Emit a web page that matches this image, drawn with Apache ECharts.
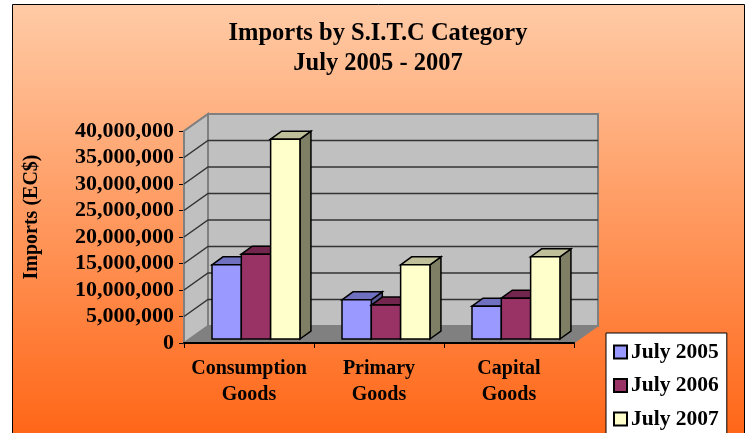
<!DOCTYPE html>
<html>
<head>
<meta charset="utf-8">
<style>
  html, body { margin: 0; padding: 0; background: #fff; }
  #chart { width: 749px; height: 433px; }
</style>
<script src="https://cdn.jsdelivr.net/npm/echarts@6/dist/echarts.min.js"></script>
</head>
<body>
<div id="chart"></div>
<script>
const categories = ['Consumption\nGoods', 'Primary\nGoods', 'Capital\nGoods'];
const july2005 = [14000000, 7400000, 6200000];
const july2006 = [16000000, 6400000, 7700000];
const july2007 = [37700000, 14000000, 15500000];
const gridTicks = [5000000, 10000000, 15000000, 20000000, 25000000, 30000000, 35000000, 40000000];

const serif = '"Liberation Serif", serif';
const depthX = 24;
const depthY = -17;

// one bar with its top and side faces, the 3d look is faked with polygons
const barRenderer = (seriesIndex, front, top, side) => (params, api) => {
  const band = api.size([1, 0])[0];
  const width = band * 0.2255;
  const base = api.coord([api.value(0), 0]);
  const peak = api.coord([api.value(0), api.value(1)]);
  const x0 = base[0] - band / 2 + 28 + seriesIndex * width;
  const x1 = x0 + width;
  const y0 = base[1] - 4;
  const y1 = peak[1] - 4;
  const dx = 11;
  const dy = -8;
  const lineStyle = { stroke: '#000', lineWidth: 1.5 };
  return {
    type: 'group',
    children: [
      { type: 'polygon', shape: { points: [[x1, y0], [x1 + dx, y0 + dy], [x1 + dx, y1 + dy], [x1, y1]] }, style: { fill: side, ...lineStyle } },
      { type: 'polygon', shape: { points: [[x0, y1], [x0 + dx, y1 + dy], [x1 + dx, y1 + dy], [x1, y1]] }, style: { fill: top, ...lineStyle } },
      { type: 'rect', shape: { x: x0, y: y1, width: width, height: y0 - y1 }, style: { fill: front, ...lineStyle } },
    ],
  };
};

const barSeries = (name, data, index, front, top, side) => ({
  name: name,
  type: 'custom',
  coordinateSystem: 'cartesian2d',
  data: data.map((v, i) => [i, v]),
  encode: { x: 0, y: 1 },
  clip: false,
  z: 5 + index,
  itemStyle: { color: front, borderColor: '#000', borderWidth: 1 },
  renderItem: barRenderer(index, front, top, side),
});

const chart = echarts.init(document.getElementById('chart'));
chart.setOption({
  animation: false,
  backgroundColor: '#fff',
  graphic: [{
    type: 'rect',
    z: -10,
    shape: { x: 12.5, y: 4.5, width: 732, height: 440 },
    style: {
      stroke: '#000',
      lineWidth: 1,
      fill: {
        type: 'linear', x: 0, y: 0, x2: 0, y2: 1,
        colorStops: [
          { offset: 0, color: '#FFCBA6' },
          { offset: 1, color: '#FF6414' },
        ],
      },
    },
  }],
  title: {
    text: 'Imports by S.I.T.C Category\nJuly 2005 - 2007',
    left: 373,
    top: 14,
    textAlign: 'center',
    textStyle: { fontFamily: serif, fontSize: 24.5, fontWeight: 'bold', color: '#000', lineHeight: 30 },
  },
  legend: {
    orient: 'vertical',
    left: 606,
    top: 333,
    height: 130,
    data: ['July 2005', 'July 2006', 'July 2007'],
    backgroundColor: '#fff',
    borderColor: '#000',
    borderWidth: 1,
    padding: [8, 8, 4, 7],
    itemWidth: 13,
    itemHeight: 13,
    itemGap: 11.5,
    icon: 'rect',
    textStyle: { fontFamily: serif, fontSize: 21.5, fontWeight: 'bold', color: '#000', padding: [0, 0, 0, -1] },
  },
  grid: { left: 184, top: 131, width: 390, height: 212 },
  xAxis: {
    type: 'category',
    data: categories,
    axisLine: { lineStyle: { color: '#000', width: 2 } },
    axisTick: { show: true, length: 5, lineStyle: { color: '#000', width: 1 } },
    axisLabel: { interval: 0, fontFamily: serif, fontSize: 20, fontWeight: 'bold', color: '#000', lineHeight: 26, margin: 13 },
    z: 4,
  },
  yAxis: {
    type: 'value',
    min: 0,
    max: 40000000,
    interval: 5000000,
    name: 'Imports (EC$)',
    nameLocation: 'middle',
    nameGap: 142,
    nameRotate: 90,
    nameTextStyle: { fontFamily: serif, fontSize: 20, fontWeight: 'bold', color: '#000', padding: [0, 0, 0, 40] },
    axisLine: { show: false },
    axisTick: { show: true, length: 5, lineStyle: { color: '#000', width: 1 } },
    axisLabel: {
      fontFamily: serif, fontSize: 22, fontWeight: 'bold', color: '#000', margin: 10, padding: [4, 0, 0, 0],
      formatter: (v) => v.toLocaleString('en-US'),
    },
    splitLine: { show: false },
  },
  series: [
    {
      // walls and floor behind the bars
      type: 'custom',
      data: [[0, 0]],
      clip: false,
      silent: true,
      z: 1,
      renderItem: (params, api) => {
        const g = params.coordSys;
        const l = g.x, r = g.x + g.width, t = g.y, b = g.y + g.height;
        const edge = { stroke: '#808080', lineWidth: 2 };
        return {
          type: 'group',
          children: [
            { type: 'polygon', shape: { points: [[l + depthX, t + depthY], [r + depthX, t + depthY], [r + depthX, b + depthY], [l + depthX, b + depthY]] }, style: { fill: '#C0C0C0', ...edge } },
            { type: 'polygon', shape: { points: [[l, t], [l + depthX, t + depthY], [l + depthX, b + depthY], [l, b]] }, style: { fill: '#C0C0C0', ...edge } },
            { type: 'polygon', shape: { points: [[l, b], [l + depthX, b + depthY], [r + depthX, b + depthY], [r, b]] }, style: { fill: '#808080', stroke: '#808080', lineWidth: 1 } },
          ],
        };
      },
    },
    {
      // gridlines run along the side wall and the back wall
      type: 'custom',
      data: gridTicks.map((v) => [0, v]),
      encode: { y: 1 },
      clip: false,
      silent: true,
      z: 2,
      renderItem: (params, api) => {
        const g = params.coordSys;
        const y = api.coord([0, api.value(1)])[1];
        const isTop = api.value(1) === 40000000;
        const line = { stroke: isTop ? '#808080' : '#333', lineWidth: 1.5, fill: 'none' };
        return {
          type: 'polyline',
          shape: { points: [[g.x, y], [g.x + depthX, y + depthY], [g.x + g.width + depthX, y + depthY]] },
          style: line,
        };
      },
    },
    barSeries('July 2005', july2005, 0, '#9999FF', '#7070C0', '#5A5A99'),
    barSeries('July 2006', july2006, 1, '#993366', '#73264D', '#5C1F3D'),
    barSeries('July 2007', july2007, 2, '#FFFFCC', '#BFBF99', '#7F7F66'),
  ],
});
</script>
</body>
</html>
